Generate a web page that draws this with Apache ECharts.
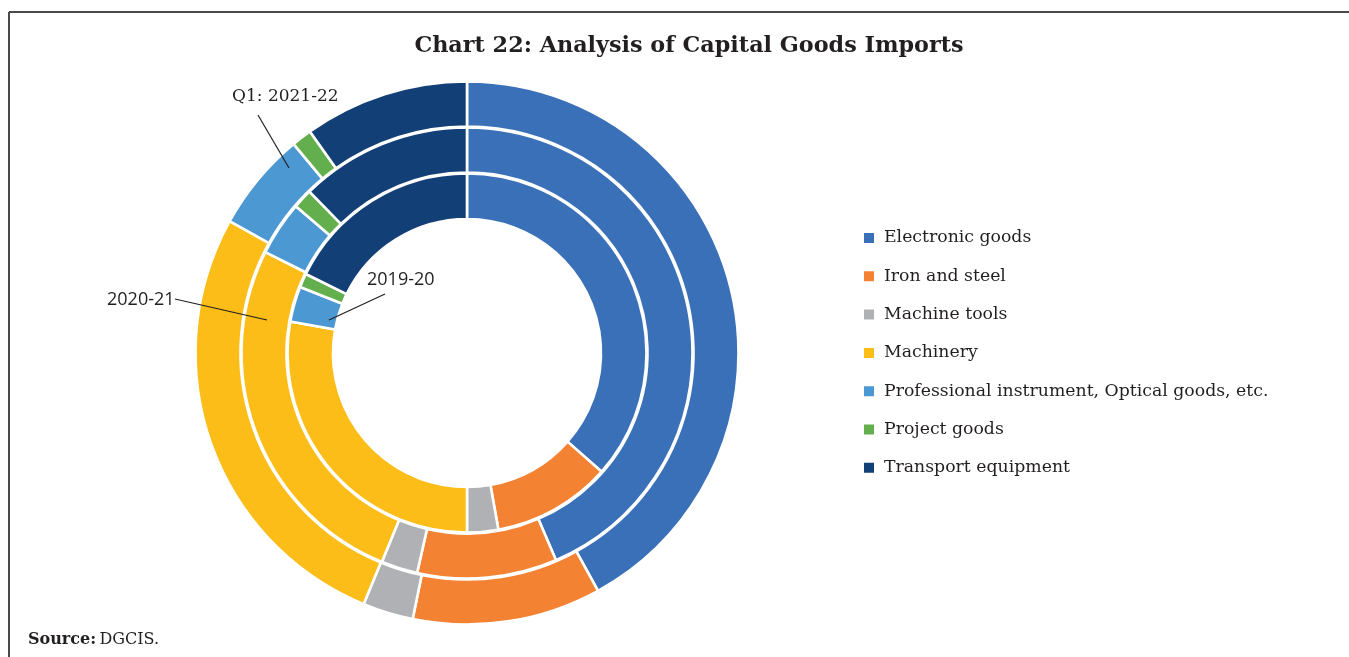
<!DOCTYPE html>
<html>
<head>
<meta charset="utf-8">
<script src="https://cdn.jsdelivr.net/npm/echarts@6/dist/echarts.min.js"></script>
<style>
html,body{margin:0;padding:0;background:#fff;}
#chart{width:1349px;height:657px;}
</style>
</head>
<body>
<div id="chart"></div>
<script>
const categories = ["Electronic goods","Iron and steel","Machine tools","Machinery","Professional instrument, Optical goods, etc.","Project goods","Transport equipment"];
const colors = ["#3a70b7","#f38232","#b0b1b4","#fcbd19","#4c98d2","#64af4d","#133f77"];
const values2019 = [36.5, 10.7, 2.8, 27.8, 3.2, 1.25, 17.75];
const values2020 = [43.5, 10.0, 2.6, 26.2, 3.9, 1.4, 12.3];
const valuesQ1 = [41.9, 11.2, 3.0, 26.8, 5.9, 1.2, 9.8];
const ringNames = ["2019-20","2020-21","Q1: 2021-22"];

const chart = echarts.init(document.getElementById('chart'), null, {renderer:'canvas'});
const serif = "'DejaVu Serif', serif";
const sans = "'Open Sans', 'DejaVu Sans', sans-serif";

function ring(name, vals, radius){
  return {
    type:'pie', name:name, center:[467,353], radius:radius,
    startAngle:90, clockwise:true, avoidLabelOverlap:false, z:2,
    label:{show:false}, labelLine:{show:false},
    itemStyle:{borderColor:'#fff', borderWidth:2.6},
    emphasis:{disabled:true},
    data: vals.map((v,i)=>({name:categories[i], value:v, itemStyle:{color:colors[i]}}))
  };
}

chart.setOption({
  animation:false,
  title:{
    text:"Chart 22: Analysis of Capital Goods Imports",
    left:684, top:30, textAlign:'center',
    textStyle:{fontFamily:serif, fontWeight:'bold', fontSize:22.3, color:'#231f20'}
  },
  legend:{
    orient:'vertical', left:857, top:223,
    itemWidth:12, itemHeight:12, icon:'rect', itemGap:18.3,
    data:categories,
    selectedMode:false,
    textStyle:{fontFamily:serif, fontSize:17.3, color:'#231f20', lineHeight:20, padding:[0,0,0,4]}
  },
  series:[
    ring(ringNames[0], values2019, [134,179.5]),
    ring(ringNames[1], values2020, [180.5,225.5]),
    ring(ringNames[2], valuesQ1, [226.5,271.5])
  ],
  graphic:[
    {type:'line', z:100, shape:{x1:9,y1:12,x2:1349,y2:12}, style:{stroke:'#4a4a4a', lineWidth:2}},
    {type:'line', z:100, shape:{x1:9,y1:12,x2:9,y2:657}, style:{stroke:'#4a4a4a', lineWidth:2}},
    {type:'text', z:100, left:232, top:88, style:{text:ringNames[2], font:"17px "+serif, fill:'#231f20'}},
    {type:'line', z:100, shape:{x1:258,y1:115,x2:289,y2:168}, style:{stroke:'#231f20', lineWidth:1.2}},
    {type:'text', z:100, left:107, top:291, style:{text:ringNames[1], font:"18px "+sans, fill:'#231f20'}},
    {type:'line', z:100, shape:{x1:175,y1:299,x2:267,y2:320}, style:{stroke:'#231f20', lineWidth:1.2}},
    {type:'text', z:100, left:367, top:271, style:{text:ringNames[0], font:"18px "+sans, fill:'#231f20'}},
    {type:'line', z:100, shape:{x1:385,y1:294,x2:329,y2:320}, style:{stroke:'#231f20', lineWidth:1.2}},
    {type:'text', z:100, left:28, top:632, style:{
      text:"{b|Source:} {r|DGCIS.}",
      rich:{b:{fontFamily:serif, fontWeight:'bold', fontSize:16, fill:'#231f20'}, r:{fontFamily:serif, fontSize:16, fill:'#231f20'}}
    }}
  ]
});
</script>
</body>
</html>
